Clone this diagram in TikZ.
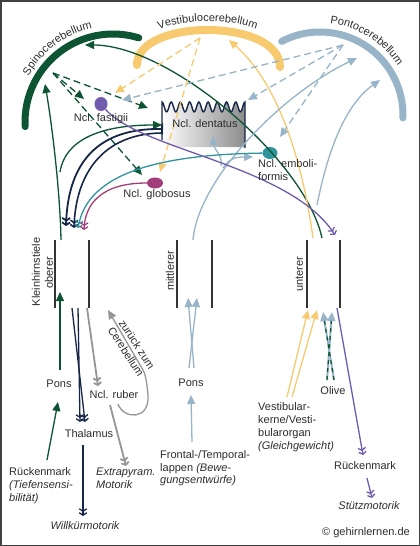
\documentclass[tikz,border=0pt]{standalone}
\usepackage{fontspec}
\setmainfont{Liberation Sans}
\usetikzlibrary{arrows.meta,positioning,shapes.geometric,decorations.text}

\definecolor{spinoc}{RGB}{12,84,50}
\definecolor{vestic}{RGB}{248,202,112}
\definecolor{pontoc}{RGB}{152,180,200}
\definecolor{dentc}{RGB}{22,38,72}
\definecolor{fastc}{RGB}{112,92,172}
\definecolor{embolc}{RGB}{48,148,158}
\definecolor{globc}{RGB}{162,62,122}
\definecolor{rubc}{RGB}{150,150,150}
\definecolor{txtc}{RGB}{45,45,45}

\newcommand{\lblsize}{\fontsize{11}{13}\selectfont}

\begin{document}
\begin{tikzpicture}[
    x=1pt, y=-1pt,
    lbl/.style={font=\lblsize, text=txtc, inner sep=0pt, text height=8pt, text depth=2.5pt},
    note/.style={font=\lblsize, text=txtc, inner sep=0pt, align=left, anchor=north west},
    nucleus/.style={ellipse, inner sep=0pt, draw=none},
    stalk/.style={line width=2pt, black!80},
    lobe/.style={line width=7pt, line cap=round},
    lobetext/.style={decorate, decoration={text along path, text align=center, text color=txtc}},
    fiber/.style={line width=1.3pt},
    aff/.style={fiber, -{Triangle[length=9pt,width=8pt]}},
    eff/.style={fiber, -{Straight Barb[length=2.5pt,width=7.5pt] Straight Barb[length=2.5pt,width=7.5pt]}},
    intra/.style={aff, dash pattern=on 7pt off 4pt}
]
\fill[white] (0,0) rectangle (420,546);
\useasboundingbox (0,0) rectangle (420,546);

% cerebellar cortex
\draw[lobe, spinoc] ([shift={(177:88)}]113,122) arc[start angle=177, end angle=287, radius=88];
\draw[lobe, vestic, line width=8pt] (137,65) .. controls (137,18) and (280,18) .. (280,67);
\draw[lobe, pontoc] ([shift={(242.5:83)}]320,115) arc[start angle=242.5, end angle=362, radius=83];

\path[lobetext, decoration={text={|\lblsize|Spinocerebellum}}]
    ([shift={(188:96)}]113,122) arc[start angle=188, end angle=278, radius=96];
\path[lobetext, decoration={text={|\lblsize|Vestibulocerebellum}}]
    (120,70) .. controls (125,5) and (290,5) .. (295,70);
\path[lobetext, decoration={text={|\lblsize|Pontocerebellum}}]
    ([shift={(257:92)}]320,115) arc[start angle=257, end angle=347, radius=92];

% Kleinhirnstiele
\foreach \px in {55,89,177,212,307,340}
    \draw[stalk] (\px,240) -- (\px,308);

% Ncl. dentatus
\shade[left color=white, right color=black!45]
    (162,112) -- plot[domain=162:245, samples=100] (\x,{107-5*cos(39.05*(\x-162))})
    -- (245,147) -- (162,147) -- cycle;
\draw[dentc, line width=1.4pt]
    (162,140) -- plot[domain=162:245, samples=100] (\x,{107-5*cos(39.05*(\x-162))}) -- (245,148);

\node[nucleus, fill=fastc, minimum width=13pt, minimum height=14pt] (fastigii) at (101,104) {};
\node[nucleus, fill=globc, minimum width=16pt, minimum height=11pt] (globosus) at (155,183) {};
\node[nucleus, fill=embolc, minimum width=15pt, minimum height=12pt] (emboli) at (270,153) {};

% end points
\coordinate (spsrc) at (53,73);
\coordinate (spfa) at (84,99);
\coordinate (spde) at (148,108);
\coordinate (spgl) at (142,175);
\coordinate (spup) at (61,240);
\coordinate (spfork) at (60,172);
\coordinate (sptop) at (45,84);
\coordinate (spdent) at (162,125);
\coordinate (spinf) at (322,238);
\coordinate (sparc) at (85,45);
\coordinate (rmstart) at (47,460);
\coordinate (ponsin) at (58,402);
\coordinate (ponsout) at (60,370);
\coordinate (obin) at (60,292);
\coordinate (ol1s) at (334,380);
\coordinate (ol1e) at (323,312);
\coordinate (ol2s) at (327,380);
\coordinate (ol2e) at (332,312);
\coordinate (ve1s) at (287,397);
\coordinate (ve1e) at (308,310);
\coordinate (ve2s) at (292,397);
\coordinate (ve2e) at (317,310);
\coordinate (veinf) at (313,238);
\coordinate (vearc) at (229,40);
\coordinate (vesrc) at (200,38);
\coordinate (vefa) at (115,93);
\coordinate (vegl) at (160,172);
\coordinate (posrc) at (343,45);
\coordinate (pofa) at (122,100);
\coordinate (pode) at (248,100);
\coordinate (poem) at (280,137);
\coordinate (pomid) at (193,240);
\coordinate (potop1) at (357,58);
\coordinate (pount) at (317,205);
\coordinate (potop2) at (380,80);
\coordinate (pobr1) at (221,166);
\coordinate (pobr2) at (223,168);
\coordinate (podent) at (213,136);
\coordinate (poemb) at (253,157);
\coordinate (pm1s) at (189,368);
\coordinate (pm1e) at (197,298);
\coordinate (pm2s) at (194,368);
\coordinate (pm2e) at (188,298);
\coordinate (frs) at (192,442);
\coordinate (fre) at (191,395);
\coordinate (de1s) at (163,129);
\coordinate (de1e) at (66,226);
\coordinate (de2s) at (163,133);
\coordinate (de2e) at (74,228);
\coordinate (th1s) at (72,308);
\coordinate (th1e) at (85,422);
\coordinate (th2s) at (78,308);
\coordinate (th2e) at (80,422);
\coordinate (wis) at (83,445);
\coordinate (wie) at (83,516);
\coordinate (rus) at (87,308);
\coordinate (rue) at (98,386);
\coordinate (res) at (110,405);
\coordinate (ree) at (126,466);
\coordinate (loops) at (118,404);
\coordinate (loope) at (108,310);
\coordinate (fue) at (335,235);
\coordinate (pus) at (337,308);
\coordinate (pue) at (363,455);
\coordinate (pus2) at (367,478);
\coordinate (pue2) at (372,498);
\coordinate (eme) at (78,228);
\coordinate (gle) at (84,230);

% Spinocerebellum
\draw[intra, spinoc] (spsrc) -- (spfa);
\draw[intra, spinoc] (spsrc) -- (spde);
\draw[intra, spinoc] (spsrc) -- (spgl);
\draw[aff, spinoc] (spup) .. controls (60,190) and (52,125) .. (sptop);
\draw[aff, spinoc] (spfork) .. controls (65,140) and (100,125) .. (spdent);
\draw[aff, spinoc] (spinf) .. controls (305,160) and (170,45) .. (sparc);
\draw[aff, spinoc] (rmstart) -- (ponsin);
\draw[aff, spinoc] (ponsout) -- (obin);

% Vestibulocerebellum
\draw[intra, vestic] (vesrc) -- (vefa);
\draw[intra, vestic] (vesrc) -- (vegl);
\draw[aff, vestic] (veinf) .. controls (303,165) and (280,85) .. (vearc);
\draw[aff, vestic] (ve1s) -- (ve1e);
\draw[aff, vestic] (ve2s) -- (ve2e);

% Pontocerebellum
\draw[intra, pontoc] (posrc) -- (pofa);
\draw[intra, pontoc] (posrc) -- (pode);
\draw[intra, pontoc] (posrc) -- (poem);
\draw[aff, pontoc] (pomid) .. controls (198,180) and (280,95) .. (potop1);
\draw[aff, pontoc] (pount) .. controls (328,150) and (345,105) .. (potop2);
\draw[aff, pontoc] (pobr1) .. controls (223,155) and (214,150) .. (podent);
\draw[aff, pontoc] (pobr2) .. controls (230,157) and (238,157) .. (poemb);
\draw[aff, pontoc] (pm1s) -- (pm1e);
\draw[aff, pontoc] (pm2s) -- (pm2e);
\draw[aff, pontoc] (frs) -- (fre);

% Olive
\draw[aff, pontoc, line width=2pt] (ol1s) -- (ol1e);
\draw[aff, pontoc, line width=2pt] (ol2s) -- (ol2e);
\draw[spinoc, line width=1.2pt, dash pattern=on 4pt off 4pt, shorten >=9pt] (ol1s) -- (ol1e);
\draw[spinoc, line width=1.2pt, dash pattern=on 4pt off 4pt, shorten >=9pt] (ol2s) -- (ol2e);

% efferent
\draw[fiber, dentc, line width=1.8pt, {Bar[width=11pt]}-{Straight Barb[length=2.5pt,width=8pt] Straight Barb[length=2.5pt,width=8pt]}]
    (de1s) .. controls (100,128) and (68,160) .. (de1e);
\draw[eff, dentc, line width=1.6pt] (de2s) .. controls (108,133) and (76,168) .. (de2e);
\draw[eff, embolc] (emboli) .. controls (120,155) and (85,190) .. (eme);
\draw[eff, globc] (globosus) .. controls (100,183) and (85,205) .. (gle);
\draw[eff, fastc] (fastigii) .. controls (140,150) and (290,165) .. (fue);
\draw[eff, fastc] (pus) -- (pue);
\draw[eff, fastc] (pus2) -- (pue2);
\draw[eff, dentc] (th1s) -- (th1e);
\draw[eff, dentc] (th2s) -- (th2e);
\draw[eff, dentc] (wis) -- (wie);
\draw[eff, rubc, line width=1.8pt] (rus) -- (rue);
\draw[eff, rubc, line width=1.8pt] (res) -- (ree);
\draw[aff, rubc] (loops) .. controls (124,420) and (150,420) .. (148,395)
    .. controls (147,385) and (146,375) .. (143,370) -- (loope);

% labels
\node[lbl] (dentatus) at (205,125) {Ncl. dentatus};
\node[lbl, below=2pt of fastigii] (fastlbl) {Ncl. fastigii};
\node[lbl, below=1pt of globosus, xshift=2pt] (globlbl) {Ncl. globosus};
\node[note] (embollbl) at (258,159.5) {Ncl. emboli-\\formis};
\node[lbl, rotate=90] (khs) at (37,272) {Kleinhirnstiele};
\node[lbl, rotate=90] (obr) at (50,273) {oberer};
\node[lbl, rotate=90] (mitt) at (171,271) {mittlerer};
\node[lbl, rotate=90] (untr) at (300,274) {unterer};
\node[lbl] (pons1) at (59,385) {Pons};
\node[lbl] (pons2) at (191,384) {Pons};
\node[lbl] (ruber) at (114,396) {Ncl. ruber};
\node[note, anchor=center, align=center, rotate=-57] (zurueck) at (131.5,348) {zurück zum\\Cerebellum};
\node[lbl] (thal) at (89,435) {Thalamus};
\node[lbl, font=\lblsize\itshape] (willk) at (85,527) {Willkürmotorik};
\node[lbl] (olive) at (333,392) {Olive};
\node[lbl] (rmright) at (365,467) {Rückenmark};
\node[lbl, font=\lblsize\itshape] (stuetz) at (369,507) {Stützmotorik};
\node[note] (rmleft) at (9,467.5) {Rückenmark\\\textit{(Tiefensensi-}\\\textit{bilität)}};
\node[note, font=\lblsize\itshape] (extra) at (96,467.5) {Extrapyram.\\Motorik};
\node[note, font=\fontsize{11}{12.5}\selectfont] (front) at (160,450.5) {Frontal-/Temporal-\\lappen \textit{(Bewe-}\\\textit{gungsentwürfe)}};
\node[note] (vestib) at (258,402.5) {Vestibular-\\kerne/Vesti-\\bularorgan\\\textit{(Gleichgewicht)}};
\node[lbl] (copy) at (366,533) {© gehirnlernen.de};

\draw[black!75, line width=1.5pt] (0.75,0.75) rectangle (419.25,545.25);
\end{tikzpicture}
\end{document}
